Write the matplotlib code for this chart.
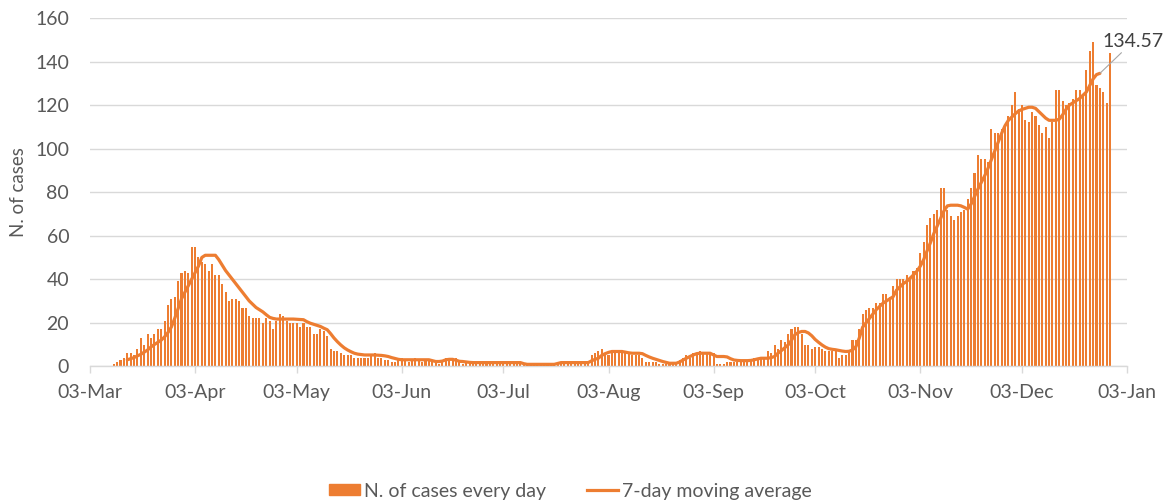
import matplotlib
matplotlib.use("Agg")
import matplotlib.pyplot as plt
import matplotlib.patches as mpatches
import matplotlib.lines as mlines
import pandas as pd

ORANGE = "#ED7D31"
GREY_TXT = "#595959"
GRID = "#D9D9D9"

# daily new cases, one value per day starting 10-Mar-2020
cases_mar = [1, 2, 3, 4, 6, 6, 5, 8, 13, 10, 15, 13, 15, 17, 17, 21, 28, 31, 32, 39,
             43, 44, 43, 55, 55]
cases_apr = [50, 48, 47, 44, 47, 42, 42, 38, 34, 30, 31, 31, 30, 27, 27,
             23, 22, 22, 22, 20, 22, 21, 17, 21, 24, 23, 21, 20, 20, 20,
             18, 20, 18, 18, 15, 15, 17, 16, 14]
cases_may = [8, 7, 7, 6, 5, 5, 5, 4, 4, 4, 4, 4, 5, 6, 4, 4, 3, 3, 2, 2]
cases_summer = [3, 4, 3, 2, 3, 4, 3, 2, 3, 3, 2, 2, 1, 3, 4, 3, 3, 4, 2, 1,
                2, 2, 2, 1, 2, 2, 1, 2, 2, 2, 1, 2, 2, 2, 1, 2, 2, 1, 1, 1,
                1, 1, 1, 1, 1, 1, 1, 2, 2, 1, 2, 2, 2, 1, 2, 2, 2]
cases_aug = [5, 6, 7, 8, 6, 5, 6, 6, 6, 6, 6, 6, 5, 5, 5, 4, 2, 2, 2, 2,
             1, 1, 1, 1, 1, 2, 3, 4, 5, 4, 6, 6, 7, 6, 6, 6, 6, 1, 1, 1,
             2, 2, 2, 2, 2, 2, 3, 3, 4, 3, 4, 4]
cases_sep = [7, 6, 10, 8, 12, 11, 15, 17, 18, 18, 15, 10, 10, 8, 9, 9, 8, 7, 7, 7,
             8, 4, 5, 5, 7, 12, 12, 17, 24, 26, 27]
cases_oct = [27, 29, 29, 33, 33, 32, 37, 40, 40, 40, 42, 41, 44, 45, 52, 57, 65, 68,
             70, 72, 82, 82, 72, 69, 67, 69, 71, 72, 77, 82, 89, 97, 95, 95, 94]
cases_dec = [109, 107, 107, 109, 111, 115, 120, 126, 118, 120, 113, 112, 117, 115,
             111, 107, 110, 105, 112, 127, 127, 122, 120, 121, 123, 127, 127, 125,
             136, 145, 149, 129, 128, 126, 121, 144]

# 7-day moving average, one value per day starting 14-Mar-2020
ma_mar = [3, 3.5, 4, 4.8, 5.5, 6.5, 7.5, 8.9, 10, 11, 12, 13.5, 15.5, 18, 22,
          26.5, 31, 34, 37, 40, 43, 46, 50, 51, 51, 51, 51, 49, 46.5, 44,
          42, 40, 38, 36, 34, 32, 30]
ma_may = [28.5, 27, 26, 25, 23.7, 22.5, 22, 21.7, 21.7, 21.7, 21.7, 21.7, 21.7,
          21.6, 21.5, 21.4, 20.5, 19.8, 19.3, 18.8, 18.3, 17.5, 16.8, 15, 13,
          11.3, 9.8, 8.5, 7.5, 6.7, 6, 5.6, 5.4, 5.2, 5.2, 5.2, 5.2, 5.1, 5,
          4.8, 4.5, 4, 3.6, 3.2, 3, 3, 3, 3, 3, 3, 3, 3, 3]
ma_summer = [2.6, 2.2, 2.2, 2.4, 3, 3.2, 3.2, 2.8, 2.3, 2.2, 2, 1.8,
             1.7, 1.7, 1.7, 1.7, 1.7, 1.7, 1.7, 1.7, 1.7, 1.7, 1.7, 1.7, 1.7, 1.7, 1.7,
             1.2, 0.9, 0.9, 0.9, 0.9, 0.9, 0.9, 0.9, 0.9, 0.9,
             1.3, 1.7, 1.7, 1.7, 1.7, 1.7, 1.7, 1.7, 1.7, 1.7, 2.5]
ma_aug = [3.2, 3.7, 5, 5.8, 6.4, 6.8, 6.8, 6.8, 6.8, 6.5, 6.2, 6, 6, 6, 5.8, 5,
          4.3, 3.7, 3.2, 2.7, 2.2, 1.8, 1.4, 1.4, 1.4, 2, 2.9, 3.7, 4.5, 5.2,
          5.8, 6, 6, 6, 6, 5.2, 4.5, 4.5, 4.5, 4.3, 3.5, 2.9, 2.7, 2.6, 2.6,
          2.6, 2.7, 3, 3.4, 3.7, 3.7, 3.7, 4, 4.5]
ma_sep = [6, 7.2, 8.5, 9.8, 12, 14.5, 15.5, 16, 16, 15.3, 14, 12.3, 11, 9.8, 8.8,
          8.1, 7.8, 7.6, 7.3, 7, 6.8, 6.9, 7.5, 9, 13, 18, 20, 22, 24, 26,
          27.5, 29, 30, 31]
ma_nov = [32, 35, 36.5, 38, 39, 40.5, 42, 43.7, 46, 49, 53, 56.8, 61, 64.5, 68,
          71.4, 73.7, 74, 74, 74, 73.7, 73, 72.2, 74.5, 78, 81.4, 84.5, 87.5, 91,
          95, 99, 103, 107, 110.5, 113, 114.5, 116, 117.3, 118, 118.5, 119, 119,
          118.5, 117, 115.5, 114, 113, 113, 113, 113.5, 115.5, 118, 120, 121,
          122, 123, 124.5, 126, 129, 132, 134, 134.57]

cases = (cases_mar + cases_apr + cases_may + cases_summer + cases_aug
         + cases_sep + cases_oct + cases_dec)
ma = ma_mar + ma_may + ma_summer + ma_aug + ma_sep + ma_nov

days = pd.date_range("2020-03-10", periods=len(cases), freq="D")
ma_days = pd.date_range("2020-03-14", periods=len(ma), freq="D")
tick_days = pd.date_range("2020-03-03", periods=11, freq=pd.DateOffset(months=1))

plt.rcParams["font.family"] = ["Lato", "DejaVu Sans"]

fig = plt.figure(figsize=(11.75, 5.04), dpi=100)
ax = fig.add_axes([90 / 1175, 1 - 366.3 / 504, 1037 / 1175, 348.3 / 504])

ax.bar(days, cases, width=0.6, color=ORANGE, zorder=2)
ax.plot(ma_days, ma, color=ORANGE, lw=2.3, zorder=3, solid_capstyle="round")

ax.set_xlim(pd.Timestamp("2020-03-03"), pd.Timestamp("2021-01-03"))
ax.set_ylim(0, 160)
ax.set_yticks(range(0, 161, 20))
ax.set_xticks(tick_days)
ax.set_xticklabels([d.strftime("%d-%b") for d in tick_days])

ax.grid(axis="y", color=GRID, lw=1, zorder=0)
for s in ["top", "right", "left"]:
    ax.spines[s].set_visible(False)
ax.spines["bottom"].set_color(GRID)
ax.spines["bottom"].set_linewidth(1)

ax.tick_params(axis="y", length=0, pad=15, labelcolor=GREY_TXT, labelsize=14)
ax.tick_params(axis="x", length=5, color=GRID, width=1, pad=8,
               labelcolor=GREY_TXT, labelsize=14)

ax.set_ylabel("N. of cases", color=GREY_TXT, fontsize=13.5)
ax.yaxis.set_label_coords(-0.061, 0.5)

# data label on the last point of the moving average
ax.annotate(f"{ma[-1]:.2f}", xy=(ma_days[-1], ma[-1]), xytext=(24, 23),
            textcoords="offset points", ha="center", va="center",
            color="#404040", fontsize=14,
            arrowprops=dict(arrowstyle="-", color="#A6A6A6", lw=0.8,
                            shrinkA=0, shrinkB=0))

h_bar = mpatches.Patch(color=ORANGE, label="N. of cases every day")
h_line = mlines.Line2D([], [], color=ORANGE, lw=2.3, label="7-day moving average")
fig.legend(handles=[h_bar, h_line], loc="center", ncol=2, frameon=False,
           bbox_to_anchor=(570 / 1175, 1 - 491 / 504), fontsize=14,
           labelcolor=GREY_TXT, handlelength=1.6, handleheight=0.45,
           handletextpad=0.2, columnspacing=2.1)

fig.savefig("out.png", dpi=100)
